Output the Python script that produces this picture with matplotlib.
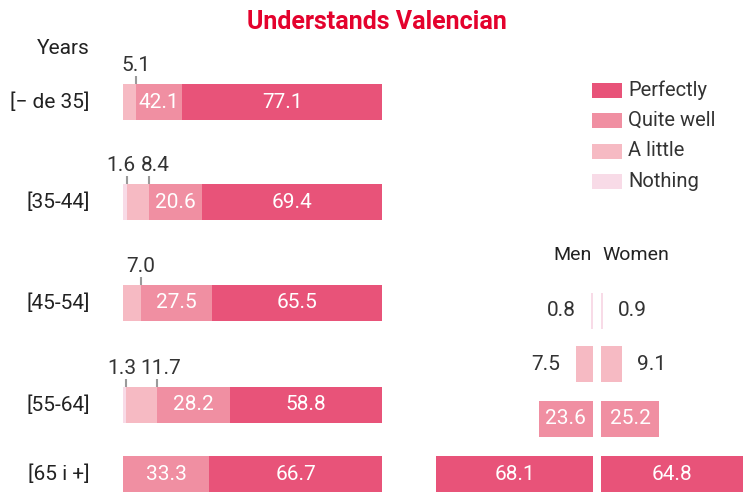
import matplotlib
matplotlib.use("Agg")
import matplotlib.pyplot as plt
from matplotlib.patches import Rectangle

plt.rcParams["font.family"] = ["Roboto", "DejaVu Sans"]

# ---- data ----
age_groups = ["[\u2212 de 35]", "[35-44]", "[45-54]", "[55-64]", "[65 i +]"]
levels = ["Perfectly", "Quite well", "A little", "Nothing"]
nothing = [0.0, 1.6, 0.0, 1.3, 0.0]
a_little = [5.1, 8.4, 7.0, 11.7, 0.0]
quite_well = [17.8, 20.6, 27.5, 28.2, 33.3]          # bar widths as drawn
quite_well_printed = ["42.1", "20.6", "27.5", "28.2", "33.3"]  # labels as printed
perfectly = [77.1, 69.4, 65.5, 58.8, 66.7]

sex = ["Men", "Women"]
men = [0.8, 7.5, 23.6, 68.1]      # Nothing, A little, Quite well, Perfectly
women = [0.9, 9.1, 25.2, 64.8]

C = {"Perfectly": "#E85379", "Quite well": "#F08FA2",
     "A little": "#F6BAC3", "Nothing": "#F8DBE7"}
RED = "#E4022D"; INK = "#222222"; NUM = "#333333"; TICK = "#9a9a9a"
W, H = 743, 492
FS = 15

def text_w(s):
    # rough pixel width of a number label
    return sum(4.5 if ch == "." else 8.8 for ch in s)

fig = plt.figure(figsize=(W/100, H/100), dpi=100)

# ---------- left: age groups ----------
axl = fig.add_axes([123/W, 0, 259/W, 1])
axl.set_xlim(0, 100); axl.set_ylim(H, 0); axl.axis("off")
px = 259/100  # px per unit
row_y = [102, 202, 303, 405, 474]
bar_h = 36
order = [("Nothing", nothing), ("A little", a_little),
         ("Quite well", quite_well), ("Perfectly", perfectly)]
for i, yc in enumerate(row_y):
    left = 0.0
    outside = []
    for name, vals in order:
        v = vals[i]
        if v <= 0:
            continue
        axl.barh(yc, v, left=left, height=bar_h, color=C[name], lw=0)
        end = left + v
        txt = quite_well_printed[i] if name == "Quite well" else f"{v:.1f}"
        if v < 15:
            outside.append((end, txt))
        else:
            axl.text(left + v/2, yc, txt, ha="center", va="center",
                     fontsize=FS, color="white")
        left = end
    top = yc - bar_h/2
    xs = [e*px for e, _ in outside]
    if len(outside) == 2:
        need = (text_w(outside[0][1]) + text_w(outside[1][1]))/2 + 12
        if xs[1] - xs[0] < need:
            mid = (xs[0] + xs[1])/2
            xs = [mid - need/2, mid + need/2]
    for (end, txt), x in zip(outside, xs):
        axl.plot([end, end], [top - 8, top], color=TICK, lw=1.5,
                 solid_capstyle="butt", clip_on=False)
        axl.text(x/px, top - 9, txt, ha="center", va="bottom",
                 fontsize=FS, color=NUM)
    axl.text(-(123-90)/px, yc, age_groups[i], ha="right",
             va="center", fontsize=FS, color=INK)
axl.text(-(123-90)/px, 49, "Years", ha="right", va="center",
         fontsize=FS, color=INK)

# ---------- right: men / women ----------
axr = fig.add_axes([420/W, 0, 323/W, 1])
scale = 2.3  # px per unit
gap = 4/scale
xmax = (323-177)/scale
axr.set_xlim(-177/scale, xmax); axr.set_ylim(H, 0); axr.axis("off")
sex_y = [311, 364, 419, 474]
for j, yc in enumerate(sex_y):
    m, w = men[j], women[j]
    axr.barh(yc, m, left=-gap - m, height=bar_h, color=C[levels[3-j]], lw=0)
    axr.barh(yc, w, left=gap, height=bar_h, color=C[levels[3-j]], lw=0)
    if m < 15:
        axr.text(-gap - m - 15/scale, yc, f"{m:.1f}", ha="right", va="center",
                 fontsize=FS, color=NUM)
        axr.text(gap + w + 15/scale, yc, f"{w:.1f}", ha="left", va="center",
                 fontsize=FS, color=NUM)
    else:
        axr.text(-gap - m/2, yc, f"{m:.1f}", ha="center", va="center",
                 fontsize=FS, color="white")
        axr.text((gap + min(gap + w, xmax))/2, yc, f"{w:.1f}", ha="center",
                 va="center", fontsize=FS, color="white")
axr.text(-5/scale, 255, sex[0], ha="right", va="center", fontsize=FS-1, color=INK)
axr.text(5/scale, 255, sex[1], ha="left", va="center", fontsize=FS-1, color=INK)

# legend
for k, name in enumerate(levels):
    yc = 90 + k*30.5
    fig.add_artist(Rectangle((592/W, 1 - (yc + 7.5)/H), 30/W, 15/H,
                             transform=fig.transFigure, color=C[name], lw=0))
    fig.text(628/W, 1 - yc/H, name, ha="left", va="center", fontsize=FS-0.5,
             color=NUM)

fig.text(377/W, 1 - 22/H, "Understands Valencian", ha="center", va="center",
         fontsize=18, color=RED, fontweight="bold")

fig.savefig("out.png", dpi=100)
